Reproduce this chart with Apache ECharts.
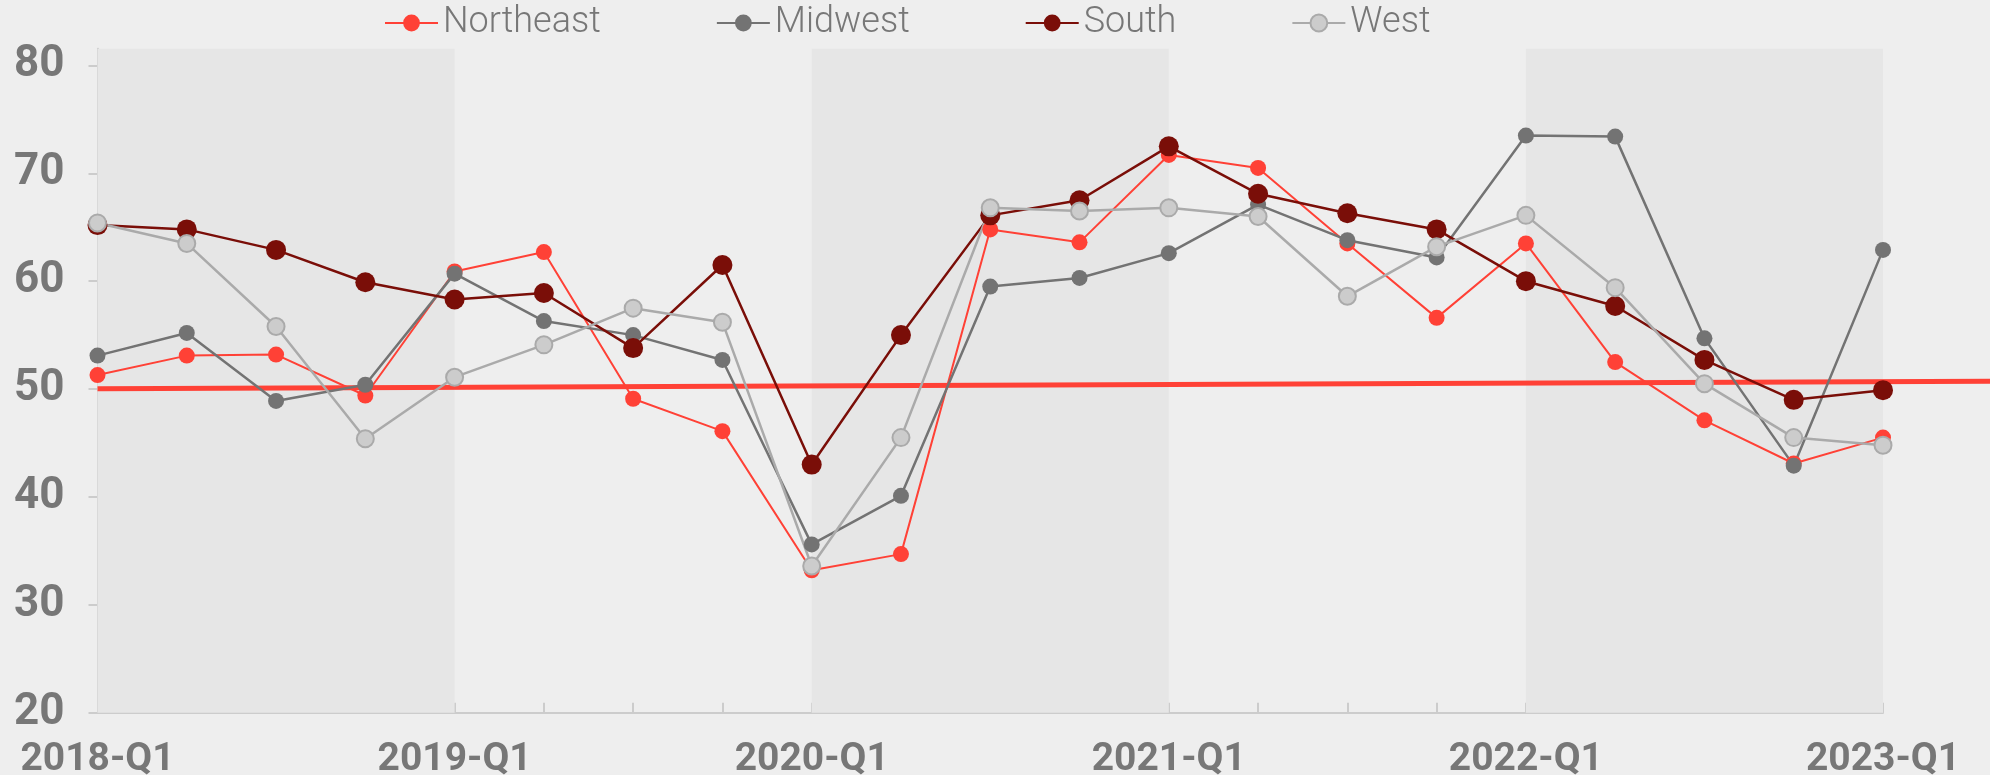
<!DOCTYPE html>
<html>
<head>
<meta charset="utf-8">
<script src="https://cdn.jsdelivr.net/npm/echarts@6/dist/echarts.min.js"></script>
<style>
  html, body { margin: 0; padding: 0; background: #eeeeee; }
  #chart { width: 1990px; height: 775px; }
</style>
</head>
<body>
<div id="chart"></div>
<script>
const categories = [
  '2018-Q1','2018-Q2','2018-Q3','2018-Q4',
  '2019-Q1','2019-Q2','2019-Q3','2019-Q4',
  '2020-Q1','2020-Q2','2020-Q3','2020-Q4',
  '2021-Q1','2021-Q2','2021-Q3','2021-Q4',
  '2022-Q1','2022-Q2','2022-Q3','2022-Q4',
  '2023-Q1'
];
const northeast = [51.3, 53.1, 53.2, 49.4, 60.9, 62.7, 49.1, 46.1, 33.2, 34.7, 64.8, 63.6, 71.7, 70.5, 63.5, 56.6, 63.5, 52.5, 47.1, 43.1, 45.5];
const midwest   = [53.1, 55.2, 48.9, 50.4, 60.7, 56.3, 55.0, 52.7, 35.6, 40.1, 59.5, 60.3, 62.6, 67.1, 63.8, 62.2, 73.5, 73.4, 54.7, 42.9, 62.9];
const south     = [65.2, 64.8, 62.9, 59.9, 58.3, 58.9, 53.8, 61.5, 43.0, 55.0, 66.1, 67.5, 72.5, 68.1, 66.3, 64.8, 60.0, 57.7, 52.7, 49.0, 49.9];
const west      = [65.4, 63.5, 55.8, 45.4, 51.1, 54.1, 57.5, 56.2, 33.6, 45.5, 66.8, 66.5, 66.8, 66.0, 58.6, 63.2, 66.1, 59.4, 50.5, 45.5, 44.8];
const yTickValues = [20, 30, 40, 50, 60, 70, 80];
const bandRanges = [['2018-Q1', '2019-Q1'], ['2020-Q1', '2021-Q1'], ['2022-Q1', '2023-Q1']];
const thresholdValues = [50.04, 50.72];

const Y_MIN = 20, Y_MAX = 81.55;

const chart = echarts.init(document.getElementById('chart'), null, { renderer: 'canvas' });
chart.setOption({
  backgroundColor: '#eeeeee',
  animation: false,
  legend: {
    data: ['Northeast', 'Midwest', 'South', 'West'],
    left: 379, top: 0,
    itemWidth: 53, itemHeight: 21, itemGap: 115,
    textStyle: { fontFamily: 'Roboto', fontWeight: 300, fontSize: 36, color: '#777777' }
  },
  grid: [
    { left: 97.5, right: 107, top: 48.7, bottom: 62.3, containLabel: false, outerBoundsMode: 'none' },
    { left: 97.5, right: 0, top: 48.7, bottom: 62.3, containLabel: false, outerBoundsMode: 'none' }
  ],
  xAxis: [
    {
      type: 'category', gridIndex: 0, data: categories, boundaryGap: false,
      axisLine: { lineStyle: { color: '#cccccc', width: 2 } },
      axisTick: { inside: true, length: 10, interval: 0, lineStyle: { color: '#cccccc', width: 2 } },
      axisLabel: { interval: 3, margin: 28, fontFamily: 'Roboto', fontWeight: 'bold', fontSize: 39, color: '#777777' },
      splitLine: { show: false }
    },
    { type: 'value', gridIndex: 1, min: 0, max: 1, show: false }
  ],
  yAxis: [
    {
      type: 'value', gridIndex: 0, min: Y_MIN, max: Y_MAX,
      axisLine: { show: true, lineStyle: { color: '#cccccc', width: 2 } },
      axisTick: { show: true, length: 9, customValues: yTickValues, lineStyle: { color: '#cccccc', width: 2 } },
      axisLabel: { customValues: yTickValues, margin: 33, fontFamily: 'Roboto', fontWeight: 'bold', fontSize: 44, color: '#777777' },
      splitLine: { show: false }
    },
    { type: 'value', gridIndex: 1, min: Y_MIN, max: Y_MAX, show: false }
  ],
  series: [
    {
      name: 'bands', type: 'line', xAxisIndex: 0, yAxisIndex: 0, data: [], z: 0, silent: true,
      markArea: {
        silent: true,
        itemStyle: { color: '#e6e6e6' },
        data: bandRanges.map(r => [{ xAxis: r[0] }, { xAxis: r[1] }])
      }
    },
    {
      name: 'threshold', type: 'line', xAxisIndex: 1, yAxisIndex: 1, z: 1, silent: true,
      data: [[0, thresholdValues[0]], [1, thresholdValues[1]]],
      symbol: 'none',
      lineStyle: { color: '#ff4136', width: 5 }
    },
    {
      name: 'Northeast', type: 'line', data: northeast, z: 3,
      symbol: 'circle', symbolSize: 16,
      itemStyle: { color: '#ff4136' },
      lineStyle: { color: '#ff4136', width: 2 }
    },
    {
      name: 'Midwest', type: 'line', data: midwest, z: 3,
      symbol: 'circle', symbolSize: 16,
      itemStyle: { color: '#737373' },
      lineStyle: { color: '#737373', width: 2.5 }
    },
    {
      name: 'South', type: 'line', data: south, z: 3,
      symbol: 'circle', symbolSize: 20,
      itemStyle: { color: '#7a0e08' },
      lineStyle: { color: '#7a0e08', width: 2.5 }
    },
    {
      name: 'West', type: 'line', data: west, z: 3,
      symbol: 'circle', symbolSize: 17,
      itemStyle: { color: '#cccccc', borderColor: '#aaaaaa', borderWidth: 2 },
      lineStyle: { color: '#aaaaaa', width: 2.5 }
    }
  ]
});
</script>
</body>
</html>
